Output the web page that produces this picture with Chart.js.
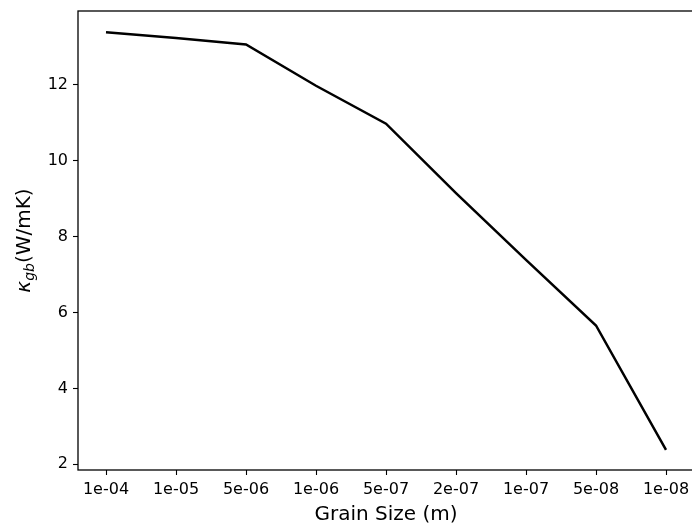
<!DOCTYPE html>
<html>
<head>
<meta charset="utf-8">
<script src="https://cdn.jsdelivr.net/npm/chart.js@4"></script>
<style>
    html, body { margin: 0; padding: 0; background: #fff; overflow: hidden; }
    .wrap { width: 700px; height: 527px; position: relative; }
</style>
</head>
<body>
<div class="wrap"><canvas id="kappaChart"></canvas></div>
<script>
// Grain sizes (categorical positions) and grain boundary conductivity
const grainSizes = ['1e-04', '1e-05', '5e-06', '1e-06', '5e-07', '2e-07', '1e-07', '5e-08', '1e-08'];
const kappaGb = [13.39, 13.24, 13.07, 11.98, 10.98, 9.15, 7.39, 5.66, 2.38];
const yTicks = [2, 4, 6, 8, 10, 12];

Chart.defaults.font.family = '"DejaVu Sans", sans-serif';
Chart.defaults.color = '#000';

// frame around the plot area, like matplotlib spines
const frame = {
    id: 'frame',
    afterDraw(chart) {
        const {ctx, chartArea: a} = chart;
        ctx.save();
        ctx.strokeStyle = '#000';
        ctx.lineWidth = 1.3;
        ctx.strokeRect(a.left, a.top, a.right - a.left, a.bottom - a.top);
        ctx.restore();
    }
};

// rotated y label with subscript: κ_gb(W/mK)
const yLabel = {
    id: 'yLabel',
    afterDraw(chart) {
        const {ctx, chartArea: a} = chart;
        const big = 'italic 20px "DejaVu Sans"';
        const small = 'italic 14px "DejaVu Sans"';
        const plain = '20px "DejaVu Sans"';
        ctx.save();
        ctx.font = big;
        const w1 = ctx.measureText('κ').width;
        ctx.font = small;
        const w2 = ctx.measureText('gb').width;
        ctx.font = plain;
        const w3 = ctx.measureText('(W/mK)').width;
        const total = w1 + w2 + w3;
        ctx.translate(29.5, (a.top + a.bottom) / 2);
        ctx.rotate(-Math.PI / 2);
        ctx.fillStyle = '#000';
        ctx.textBaseline = 'alphabetic';
        let x = -total / 2;
        ctx.font = big;
        ctx.fillText('κ', x, 0);
        x += w1;
        ctx.font = small;
        ctx.fillText('gb', x, 4);
        x += w2;
        ctx.font = plain;
        ctx.fillText('(W/mK)', x, 0);
        ctx.restore();
    }
};

const ctx = document.getElementById('kappaChart').getContext('2d');
const kappaChart = new Chart(ctx, {
    type: 'line',
    data: {
        datasets: [{
            data: kappaGb.map((v, i) => ({x: i, y: v})),
            borderColor: '#000',
            borderWidth: 2.5,
            pointRadius: 0,
            fill: false,
            tension: 0
        }]
    },
    options: {
        responsive: true,
        maintainAspectRatio: false,
        animation: false,
        layout: {
            padding: {top: 11, right: 6, left: 0, bottom: 0}
        },
        plugins: {
            legend: {display: false},
            tooltip: {enabled: false}
        },
        scales: {
            x: {
                type: 'linear',
                min: -0.4,
                max: 8.4,
                border: {display: false},
                grid: {
                    drawOnChartArea: false,
                    drawTicks: true,
                    tickLength: 5,
                    tickColor: '#000',
                    tickWidth: 1.1
                },
                ticks: {
                    stepSize: 1,
                    includeBounds: false,
                    autoSkip: false,
                    maxRotation: 0,
                    padding: 5,
                    font: {size: 16},
                    callback: (v) => Number.isInteger(v) ? grainSizes[v] : ''
                },
                title: {
                    display: true,
                    text: 'Grain Size (m)',
                    font: {size: 20},
                    padding: {top: 0, bottom: 0}
                },
                afterFit(scale) {
                    scale.height = 57;
                    scale.paddingLeft = 0;
                    scale.paddingRight = 0;
                }
            },
            y: {
                min: 1.85,
                max: 13.95,
                border: {display: false},
                grid: {
                    drawOnChartArea: false,
                    drawTicks: true,
                    tickLength: 5,
                    tickColor: '#000',
                    tickWidth: 1.1
                },
                ticks: {
                    stepSize: 2,
                    includeBounds: false,
                    padding: 5,
                    font: {size: 16},
                    callback: (v) => yTicks.includes(v) ? String(v) : ''
                },
                afterFit(scale) {
                    scale.width = 78;
                    scale.paddingTop = 0;
                    scale.paddingBottom = 0;
                }
            }
        }
    },
    plugins: [frame, yLabel]
});
</script>
</body>
</html>
